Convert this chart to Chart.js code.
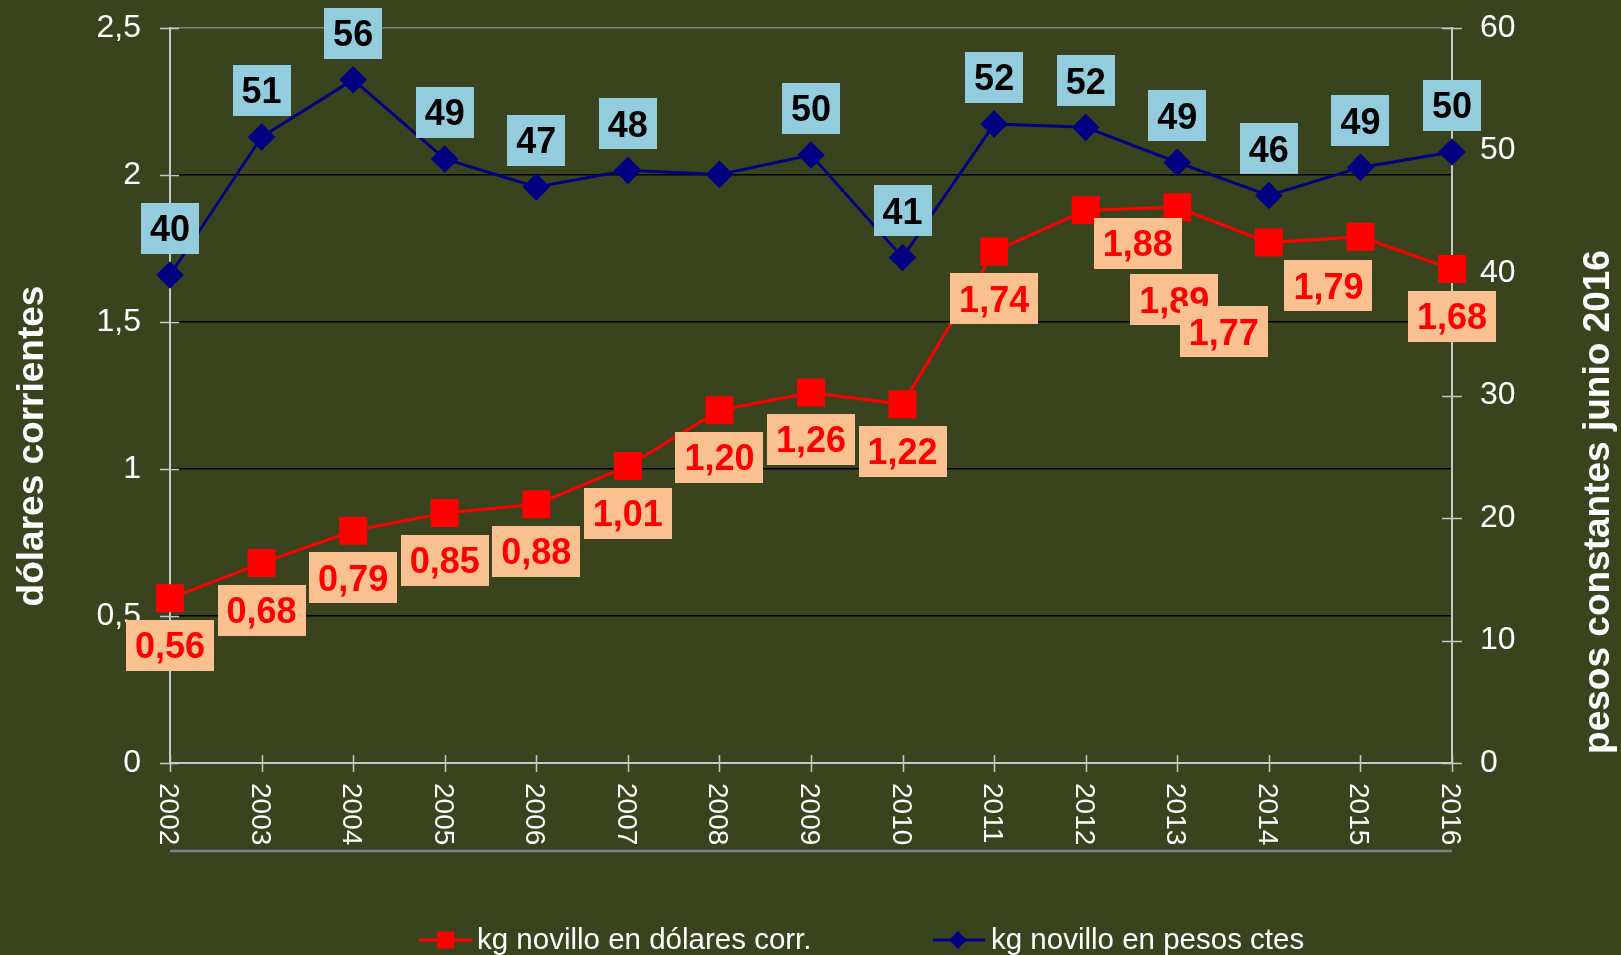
<!DOCTYPE html>
<html>
<head>
<meta charset="utf-8">
<script src="https://cdn.jsdelivr.net/npm/chart.js@4/dist/chart.umd.min.js"></script>
<style>
html,body{margin:0;padding:0;background:#39441F;}
canvas{display:block;}
</style>
</head>
<body>
<canvas id="c" width="1621" height="955"></canvas>
<script>
// ---------- data ----------
const years = ['2002','2003','2004','2005','2006','2007','2008','2009','2010','2011','2012','2013','2014','2015','2016'];
const dolaresCorr = [0.56,0.68,0.79,0.85,0.88,1.01,1.20,1.26,1.22,1.74,1.88,1.89,1.77,1.79,1.68];
const pesosCtes = [39.84,51.10,55.78,49.31,47.02,48.38,48.05,49.63,41.27,52.16,51.89,49.03,46.33,48.62,49.88];
const dolaresLabels = ['0,56','0,68','0,79','0,85','0,88','1,01','1,20','1,26','1,22','1,74','1,88','1,89','1,77','1,79','1,68'];
const pesosLabels = ['40','51','56','49','47','48',null,'50','41','52','52','49','46','49','50'];
const seriesNames = ['kg novillo en dólares corr.','kg novillo en pesos ctes'];
const leftTitle = 'dólares corrientes';
const rightTitle = 'pesos constantes junio 2016';

// ---------- style ----------
const FONT = '"Liberation Sans", Arial, Helvetica, sans-serif';
const BG = '#39441F';
const AXIS = '#C8C8C8';
const RED = '#FF0000';
const NAVY = '#000080';
const RED_BOX = '#FAC090';
const BLUE_BOX = '#93CDDD';
// label placement (pixel offsets of label box centre from its point)
const redLabelDX = [0,0,0,0,0,0,0,0,0,0,52,-3,-45,-32,0];
const redLabelDY = [47,47,47,47,47,47,47,47,47,47.5,33,92.5,89,49,47.5];
const blueLabelDY = -46.5;

function drawBoxLabel(ctx, text, cx, cy, bg, color) {
  ctx.font = 'bold 36px ' + FONT;
  const w = ctx.measureText(text).width + 18;
  const h = 51;
  ctx.fillStyle = bg;
  ctx.fillRect(Math.round(cx - w / 2), Math.round(cy - h / 2), Math.round(w), h);
  ctx.fillStyle = color;
  ctx.textAlign = 'center';
  ctx.textBaseline = 'alphabetic';
  ctx.fillText(text, cx, cy + 0.716 * 36 / 2);
}

const bgPlugin = {
  id: 'bg',
  beforeDraw(chart) {
    const c = chart.ctx;
    c.save();
    c.fillStyle = BG;
    c.fillRect(0, 0, chart.width, chart.height);
    c.restore();
  }
};

const decor = {
  id: 'decor',
  beforeDatasetsDraw(chart) {
    const c = chart.ctx, a = chart.chartArea;
    const sx = chart.scales.x, sy = chart.scales.y, sy2 = chart.scales.y2;
    c.save();
    c.strokeStyle = AXIS;
    c.lineWidth = 1.5;
    c.beginPath();
    sy.ticks.forEach(t => {
      const y = Math.round(sy.getPixelForValue(t.value)) + 0.5;
      c.moveTo(a.left - 10, y); c.lineTo(a.left + 9, y);
    });
    sy2.ticks.forEach(t => {
      const y = Math.round(sy2.getPixelForValue(t.value)) + 0.5;
      c.moveTo(a.right - 10, y); c.lineTo(a.right + 10, y);
    });
    years.forEach((_, i) => {
      const x = Math.round(sx.getPixelForValue(i)) + 0.5;
      c.moveTo(x, a.bottom - 8); c.lineTo(x, a.bottom + 9);
    });
    c.stroke();
    // extra gray line under the category labels
    c.strokeStyle = '#808080';
    c.lineWidth = 2.5;
    c.beginPath();
    c.moveTo(a.left, a.bottom + 88); c.lineTo(a.right, a.bottom + 88);
    c.stroke();
    c.restore();
  },
  afterDatasetsDraw(chart) {
    const c = chart.ctx;
    c.save();
    const mr = chart.getDatasetMeta(0).data;
    const mb = chart.getDatasetMeta(1).data;
    mb.forEach((p, i) => {
      if (pesosLabels[i] == null) return;
      drawBoxLabel(c, pesosLabels[i], p.x, p.y + blueLabelDY, BLUE_BOX, '#000000');
    });
    mr.forEach((p, i) => {
      drawBoxLabel(c, dolaresLabels[i], p.x + redLabelDX[i], p.y + redLabelDY[i], RED_BOX, RED);
    });
    c.restore();
  },
  afterDraw(chart) {
    const c = chart.ctx, a = chart.chartArea;
    const sx = chart.scales.x;
    c.save();
    c.fillStyle = '#FFFFFF';
    // category labels, rotated to read top to bottom
    c.font = '28px ' + FONT;
    c.textAlign = 'left';
    c.textBaseline = 'alphabetic';
    years.forEach((yr, i) => {
      const x = sx.getPixelForValue(i);
      c.save();
      c.translate(x, a.bottom + 20);
      c.rotate(Math.PI / 2);
      c.fillText(yr, 0, 10);
      c.restore();
    });
    // axis titles
    c.font = 'bold 37px ' + FONT;
    c.textAlign = 'center';
    c.save();
    c.translate(43, 446);
    c.rotate(-Math.PI / 2);
    c.fillText(leftTitle, 0, 0);
    c.restore();
    c.save();
    c.translate(1609, 502);
    c.rotate(-Math.PI / 2);
    c.fillText(rightTitle, 0, 0);
    c.restore();
    // legend
    const ly = 940;
    c.lineWidth = 3;
    c.strokeStyle = RED;
    c.beginPath(); c.moveTo(419, ly); c.lineTo(472, ly); c.stroke();
    c.fillStyle = RED;
    c.fillRect(437, ly - 8.5, 17, 17);
    c.strokeStyle = NAVY;
    c.beginPath(); c.moveTo(933, ly); c.lineTo(985, ly); c.stroke();
    c.fillStyle = NAVY;
    c.beginPath();
    c.moveTo(958 - 9, ly); c.lineTo(958, ly - 9); c.lineTo(958 + 9, ly); c.lineTo(958, ly + 9);
    c.closePath(); c.fill();
    c.fillStyle = '#FFFFFF';
    c.font = '29.5px ' + FONT;
    c.textAlign = 'left';
    c.fillText(seriesNames[0], 477, 949);
    c.fillText(seriesNames[1], 991, 949);
    c.restore();
  }
};

new Chart(document.getElementById('c').getContext('2d'), {
  type: 'line',
  data: {
    labels: years,
    datasets: [
      {
        label: seriesNames[0], data: dolaresCorr, yAxisID: 'y',
        borderColor: RED, backgroundColor: RED, borderWidth: 3, tension: 0,
        pointStyle: 'rect', pointRadius: 19.8, pointBorderWidth: 0, pointHoverRadius: 19.8
      },
      {
        label: seriesNames[1], data: pesosCtes, yAxisID: 'y2',
        borderColor: NAVY, backgroundColor: NAVY, borderWidth: 3, tension: 0,
        pointStyle: 'rectRot', pointRadius: 13.8, pointBorderWidth: 0, pointHoverRadius: 13.8
      }
    ]
  },
  options: {
    responsive: false,
    animation: false,
    devicePixelRatio: 1,
    layout: { padding: { top: 28, left: 0, right: 0, bottom: 0 } },
    plugins: { legend: { display: false }, tooltip: { enabled: false } },
    events: [],
    scales: {
      x: {
        type: 'category', offset: false,
        grid: { display: false, drawTicks: false },
        border: { display: true, color: AXIS, width: 2 },
        ticks: { display: false },
        afterFit(s) { s.height = 192; }
      },
      y: {
        position: 'left', min: 0, max: 2.5,
        ticks: {
          stepSize: 0.5, color: '#FFFFFF', padding: 0,
          font: { family: FONT, size: 32 },
          callback: v => String(v).replace('.', ',')
        },
        grid: {
          drawTicks: true, tickLength: 29, tickColor: 'rgba(0,0,0,0)', lineWidth: 1.5,
          color: ctx => {
            const v = ctx.tick ? ctx.tick.value : null;
            if (v === 2.5) return '#808080';
            if (v === 0) return 'rgba(0,0,0,0)';
            return '#000000';
          }
        },
        border: { color: AXIS, width: 2 },
        afterFit(s) { s.width = 170; }
      },
      y2: {
        position: 'right', min: 0, max: 60,
        ticks: {
          stepSize: 10, color: '#FFFFFF', padding: 0,
          font: { family: FONT, size: 32 }
        },
        grid: { display: false, drawOnChartArea: false, drawTicks: true, tickLength: 28, tickColor: 'rgba(0,0,0,0)' },
        border: { color: AXIS, width: 2 },
        afterFit(s) { s.width = 169; }
      }
    }
  },
  plugins: [bgPlugin, decor]
});
</script>
</body>
</html>
